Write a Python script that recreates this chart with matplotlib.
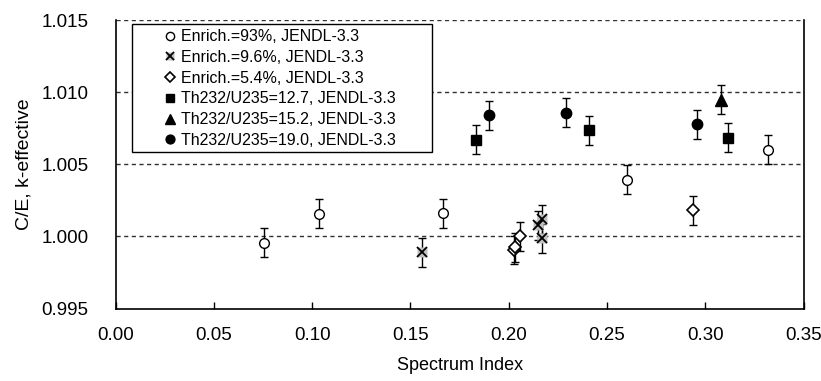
import matplotlib
matplotlib.use("Agg")
import matplotlib.pyplot as plt
from matplotlib.legend_handler import HandlerTuple
from matplotlib.patches import Rectangle

plt.rcParams['font.family'] = ['Liberation Sans', 'DejaVu Sans']

# spectrum index / C/E values
x_93 = [0.0755, 0.1035, 0.1665, 0.2600, 0.3317]
y_93 = [0.99956, 1.00158, 1.00162, 1.00394, 1.00602]

x_96 = [0.1560, 0.2146, 0.2167, 0.2167]
y_96 = [0.99891, 1.00076, 1.00118, 0.99988]

x_54 = [0.2025, 0.2033, 0.2056, 0.2938]
y_54 = [0.99906, 0.99924, 1.00002, 1.00181]

x_127 = [0.1834, 0.2409, 0.3116]
y_127 = [1.00671, 1.00736, 1.00685]

x_152 = [0.3080]
y_152 = [1.00949]

x_190 = [0.1901, 0.2290, 0.2958]
y_190 = [1.00840, 1.00858, 1.00776]

err = 0.001

labels = ["Enrich.=93%, JENDL-3.3",
          "Enrich.=9.6%, JENDL-3.3",
          "Enrich.=5.4%, JENDL-3.3",
          "Th232/U235=12.7, JENDL-3.3",
          "Th232/U235=15.2, JENDL-3.3",
          "Th232/U235=19.0, JENDL-3.3"]

fig = plt.figure(figsize=(8.21, 3.81), dpi=100)
ax = fig.add_axes([0.1407, 0.190, 0.8383, 0.7575])

ebkw = dict(ecolor='black', elinewidth=1, capsize=3, capthick=1, linestyle='none', zorder=3)

# error bars first
for xs, ys in [(x_93, y_93), (x_96, y_96), (x_54, y_54), (x_127, y_127), (x_152, y_152), (x_190, y_190)]:
    ax.errorbar(xs, ys, yerr=err, fmt='none', **ebkw)

h1, = ax.plot(x_93, y_93, 'o', ms=7, mfc='white', mec='black', mew=1, zorder=4)
h2a, = ax.plot(x_96, y_96, 's', ms=7, mfc='#c0c0c0', mec='none', zorder=4)
h2b, = ax.plot(x_96, y_96, 'x', ms=7, mec='black', mew=1.3, zorder=5)
h3, = ax.plot(x_54, y_54, 'D', ms=6, mfc='white', mec='black', mew=1.2, zorder=4)
h4, = ax.plot(x_127, y_127, 's', ms=7.5, mfc='black', mec='black', zorder=4)
h5, = ax.plot(x_152, y_152, '^', ms=8, mfc='black', mec='black', zorder=4)
h6, = ax.plot(x_190, y_190, 'o', ms=7.5, mfc='black', mec='black', zorder=4)

ax.set_xlim(0, 0.35)
ax.set_ylim(0.995, 1.015)
ax.set_xticks([0.00, 0.05, 0.10, 0.15, 0.20, 0.25, 0.30, 0.35])
ax.set_xticklabels(["%.2f" % v for v in ax.get_xticks()])
ax.set_yticks([0.995, 1.000, 1.005, 1.010, 1.015])
ax.set_yticklabels(["%.3f" % v for v in ax.get_yticks()])
ax.tick_params(axis='x', direction='in', length=5, width=1, labelsize=13.5, pad=13)
ax.tick_params(axis='y', length=0, labelsize=13.5, pad=19.5)

for v in [1.000, 1.005, 1.010, 1.015]:
    ax.axhline(v, color='#303030', lw=1, ls=(0, (3, 2.5)), zorder=1)

ax.spines['top'].set_visible(False)
for s in ['left', 'bottom', 'right']:
    ax.spines[s].set_linewidth(1.2)
    ax.spines[s].set_color('black')

ax.set_xlabel("Spectrum Index", fontsize=13, labelpad=9.5)
ax.set_ylabel("C/E, k-effective", fontsize=14, labelpad=6)

# legend frame drawn separately so the box can be wider than the entries
ax.add_patch(Rectangle((0.024, 0.5425), 0.4357, 0.4435, transform=ax.transAxes,
                       facecolor='white', edgecolor='black', lw=1, zorder=6))

leg = ax.legend([h1, (h2a, h2b), h3, h4, h5, h6], labels,
                handler_map={tuple: HandlerTuple(ndivide=1)},
                loc='upper left', bbox_to_anchor=(0.0629, 0.985),
                fontsize=11.5, frameon=False,
                handlelength=0.8, handletextpad=0.3,
                labelspacing=0.36, borderpad=0.3, borderaxespad=0,
                markerscale=0.85)
leg.set_zorder(7)

fig.savefig("out.png", dpi=100)
